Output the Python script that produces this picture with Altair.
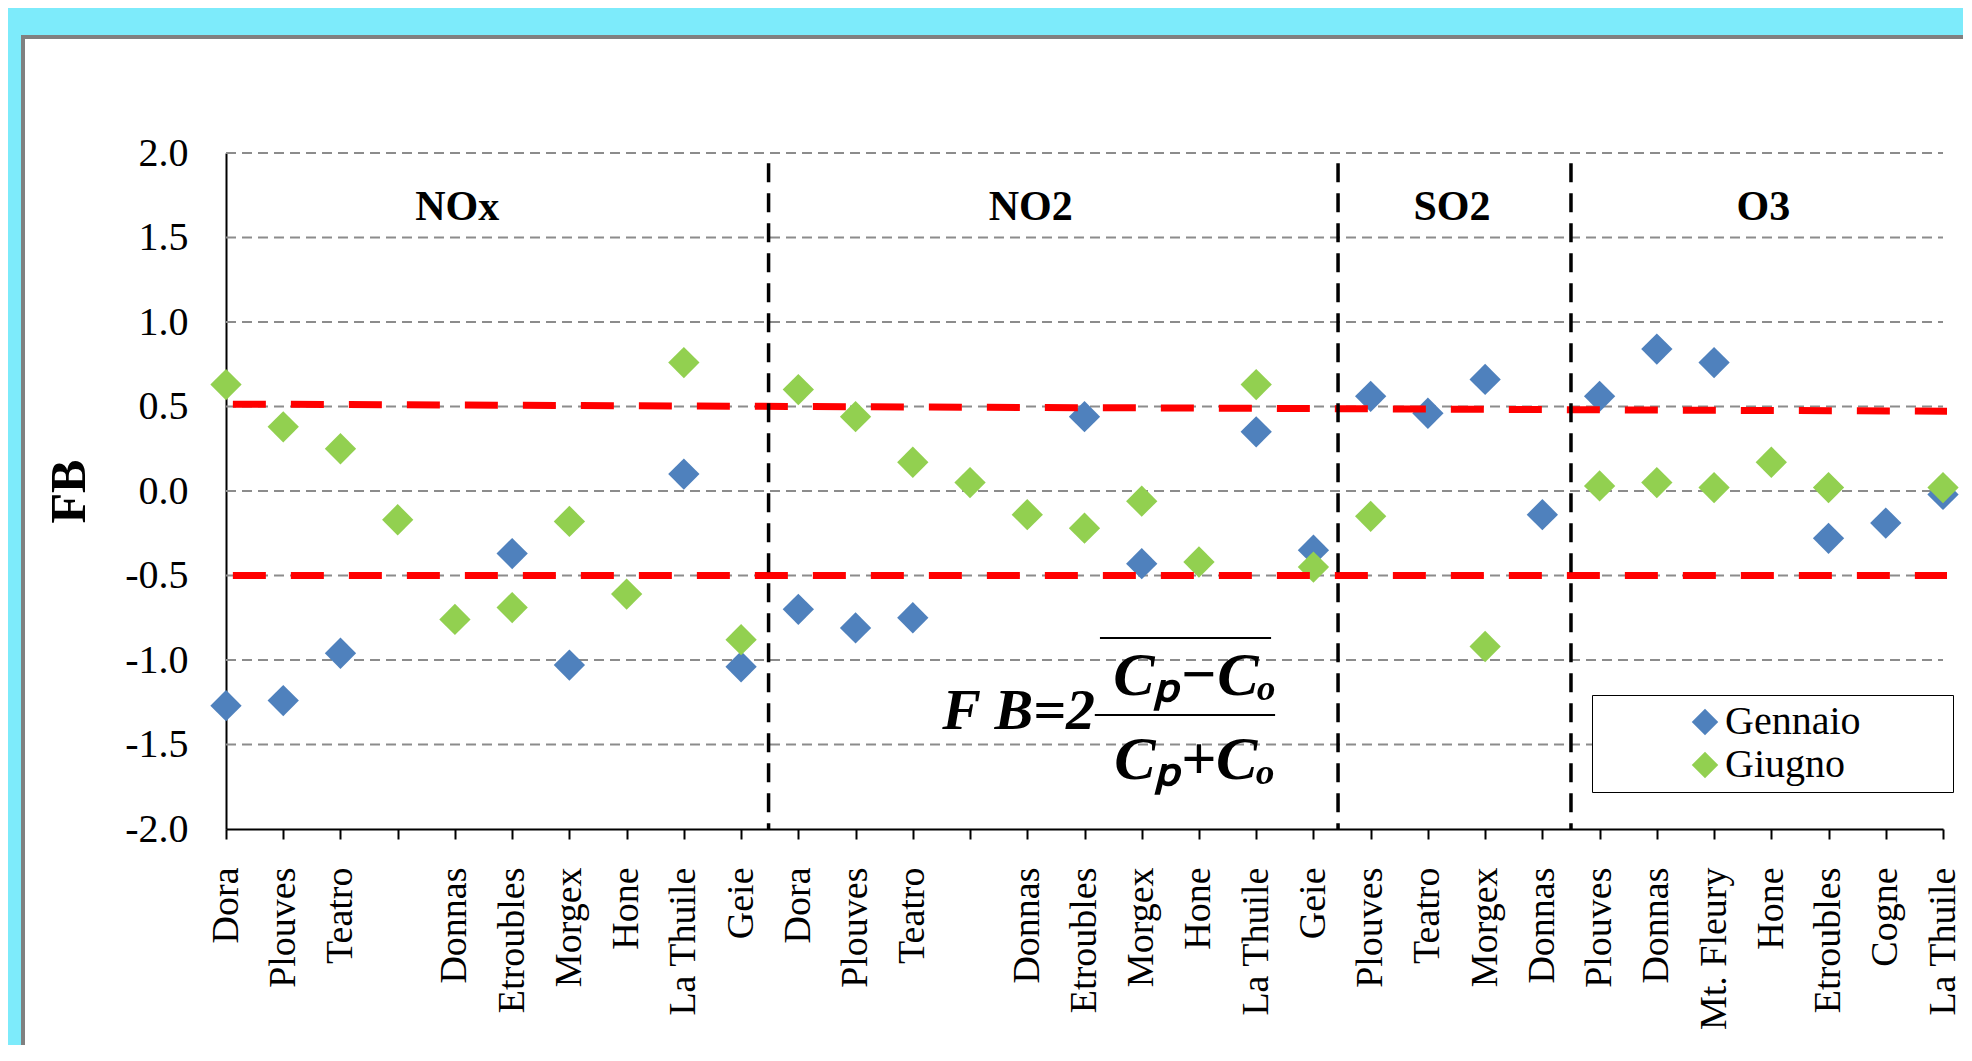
import json
import altair as alt
import pandas as pd

# ---------------- data ----------------
labels = ["Dora", "Plouves", "Teatro", "", "Donnas", "Etroubles", "Morgex", "Hone", "La Thuile", "Geie",
          "Dora", "Plouves", "Teatro", "", "Donnas", "Etroubles", "Morgex", "Hone", "La Thuile", "Geie",
          "Plouves", "Teatro", "Morgex", "Donnas",
          "Plouves", "Donnas", "Mt. Fleury", "Hone", "Etroubles", "Cogne", "La Thuile"]
gennaio = [-1.27, -1.24, -0.96, None, None, -0.37, -1.03, None, 0.10, -1.04,
           -0.70, -0.81, -0.75, None, None, 0.44, -0.43, None, 0.35, -0.35,
           0.56, 0.46, 0.66, -0.14,
           0.56, 0.84, 0.76, None, -0.28, -0.19, -0.02]
giugno = [0.63, 0.38, 0.25, -0.17, -0.76, -0.69, -0.18, -0.61, 0.76, -0.88,
          0.60, 0.44, 0.17, 0.05, -0.14, -0.22, -0.06, -0.42, 0.63, -0.45,
          -0.15, None, -0.92, None,
          0.03, 0.05, 0.02, 0.17, 0.02, None, 0.02]
series_names = ["Gennaio", "Giugno"]
series_colors = ["#4F81BD", "#92D050"]

y_ticks = [-2.0, -1.5, -1.0, -0.5, 0.0, 0.5, 1.0, 1.5, 2.0]
grid_levels = [-1.5, -1.0, -0.5, 0.0, 0.5, 1.0, 1.5, 2.0]

groups = ["NOx", "NO2", "SO2", "O3"]
group_x = [4.04, 14.06, 21.42, 26.86]
group_y = [1.68, 1.68, 1.68, 1.68]

separators = [9.48, 19.43, 23.5]
sep_top = [1.94, 1.94, 1.94]
sep_bottom = [-2.0, -2.0, -2.0]

limit_x_start = [0.12, 0.12]
limit_x_end = [30.07, 30.07]
limit_y_start = [0.514, -0.5]
limit_y_end = [0.472, -0.5]

# formula pieces (position in data space)
formula_texts = ["F B=2", "C\u209a\u2212C\u2092", "C\u209a+C\u2092"]
formula_x = [13.85, 16.93, 16.93]
formula_y = [-1.308, -1.095, -1.59]
formula_size = [58, 62, 62]
bar_x1 = [15.18, 15.27]
bar_x2 = [18.33, 18.26]
bar_y = [-1.325, -0.87]

# ---------------- geometry ----------------
W, H = 1717, 676
FONT = "Liberation Serif"
CYAN = "#7DEBFB"
XS = alt.Scale(domain=[0, 30], nice=False, zero=False)
YS = alt.Scale(domain=[-2, 2], nice=False, zero=False)

XAX = alt.Axis(
    values=list(range(31)),
    labelExpr=json.dumps(labels) + "[datum.value]",
    labelAngle=-90, labelFont=FONT, labelFontSize=38, labelColor="black",
    labelPadding=28, labelOverlap=False, labelFlush=False, labelLimit=400,
    tickSize=10, tickColor="black", tickWidth=2,
    domainColor="black", domainWidth=2, grid=False, title=None)
YAX = alt.Axis(
    values=y_ticks,
    labelExpr="datum.value < 0 ? '-' + format(-datum.value, '.1f') : format(datum.value, '.1f')",
    labelFont=FONT, labelFontSize=40, labelColor="black", labelPadding=38,
    ticks=False, domainColor="black", domainWidth=2, grid=False,
    title="FB", titleFont=FONT, titleFontSize=50, titleFontWeight="bold",
    titleColor="black", titleAngle=270, titleAlign="center", titleBaseline="middle",
    titleX=-157, titleY=H / 2)

rows = []
for name, vals in zip(series_names, [gennaio, giugno]):
    for i, v in enumerate(vals):
        if v is not None:
            rows.append({"idx": i, "series": name, "value": v})
pts_df = pd.DataFrame(rows)

one = pd.DataFrame({"a": [0]})
# page frame: cyan strips and grey edge (decoration only, outside the axes)
top_strip = alt.Chart(one).mark_rect(fill=CYAN).encode(
    x=alt.value(-230), x2=alt.value(W + 40), y=alt.value(-160), y2=alt.value(-118))
left_strip = alt.Chart(one).mark_rect(fill=CYAN).encode(
    x=alt.value(-230), x2=alt.value(-205), y=alt.value(-160), y2=alt.value(H + 260))
top_edge = alt.Chart(one).mark_rect(fill="#808080").encode(
    x=alt.value(-205), x2=alt.value(W + 40), y=alt.value(-118), y2=alt.value(-114))
left_edge = alt.Chart(one).mark_rect(fill="#808080").encode(
    x=alt.value(-205), x2=alt.value(-201), y=alt.value(-118), y2=alt.value(H + 260))

grid_df = pd.DataFrame({"v": grid_levels, "x1": [0] * len(grid_levels), "x2": [30] * len(grid_levels)})
grid = alt.Chart(grid_df).mark_rule(
    color="#8c8c8c", strokeWidth=2, strokeDash=[10, 6]
).encode(
    y=alt.Y("v:Q", scale=YS, axis=YAX),
    x=alt.X("x1:Q", scale=XS, axis=XAX),
    x2="x2:Q",
)

points = alt.Chart(pts_df).mark_point(
    shape="diamond", filled=True, size=980, opacity=1, strokeWidth=0
).encode(
    x=alt.X("idx:Q", scale=XS, axis=XAX),
    y=alt.Y("value:Q", scale=YS, axis=YAX),
    color=alt.Color("series:N", scale=alt.Scale(domain=series_names, range=series_colors),
                    legend=alt.Legend(
                        orient="none", legendX=1366, legendY=542, padding=7,
                        symbolType="diamond", symbolSize=700, symbolStrokeWidth=0,
                        symbolOffset=86, labelOffset=0, labelFont=FONT, labelFontSize=40,
                        labelColor="black", rowPadding=3, strokeColor="black",
                        fillColor="white", title="\u00a0", titleOrient="right",
                        titlePadding=85, titleFontSize=10)),
)

limits_df = pd.DataFrame({"x1": limit_x_start, "x2": limit_x_end, "y1": limit_y_start, "y2": limit_y_end})
limits = alt.Chart(limits_df).mark_rule(
    color="#FF0000", strokeWidth=7, strokeDash=[33, 25]
).encode(
    x=alt.X("x1:Q", scale=XS, axis=XAX), x2="x2:Q",
    y=alt.Y("y1:Q", scale=YS, axis=YAX), y2="y2:Q",
)

seps = alt.Chart(pd.DataFrame({"s": separators, "t": sep_top, "b": sep_bottom})).mark_rule(
    color="black", strokeWidth=3.5, strokeDash=[19, 11]
).encode(
    x=alt.X("s:Q", scale=XS, axis=XAX),
    y=alt.Y("t:Q", scale=YS, axis=YAX),
    y2="b:Q",
)

group_text = alt.Chart(pd.DataFrame({"g": groups, "x": group_x, "y": group_y})).mark_text(
    font=FONT, fontSize=42, fontWeight="bold", color="black", baseline="middle", align="center"
).encode(
    x=alt.X("x:Q", scale=XS, axis=XAX), y=alt.Y("y:Q", scale=YS, axis=YAX), text="g:N"
)

formula_df = pd.DataFrame({"t": formula_texts, "x": formula_x, "y": formula_y, "s": formula_size})
formula = alt.Chart(formula_df).mark_text(
    font=FONT, fontStyle="italic", fontWeight="bold", color="black",
    baseline="middle", align="center"
).encode(
    x=alt.X("x:Q", scale=XS, axis=XAX), y=alt.Y("y:Q", scale=YS, axis=YAX),
    text="t:N", size=alt.Size("s:Q", scale=None)
)

bars = alt.Chart(pd.DataFrame({"x1": bar_x1, "x2": bar_x2, "y": bar_y})).mark_rule(
    color="black", strokeWidth=2
).encode(
    x=alt.X("x1:Q", scale=XS, axis=XAX), x2="x2:Q",
    y=alt.Y("y:Q", scale=YS, axis=YAX),
)

chart = alt.layer(top_strip, left_strip, top_edge, left_edge, grid, points, limits, seps,
                  group_text, formula, bars).properties(
    width=W, height=H,
    padding={"left": 218, "top": 145, "right": 20, "bottom": 216},
    autosize=alt.AutoSizeParams(type="none"),
    background="white",
).configure_view(stroke=None)

chart.save("out.html", embed_options={"renderer": "svg", "actions": False})
